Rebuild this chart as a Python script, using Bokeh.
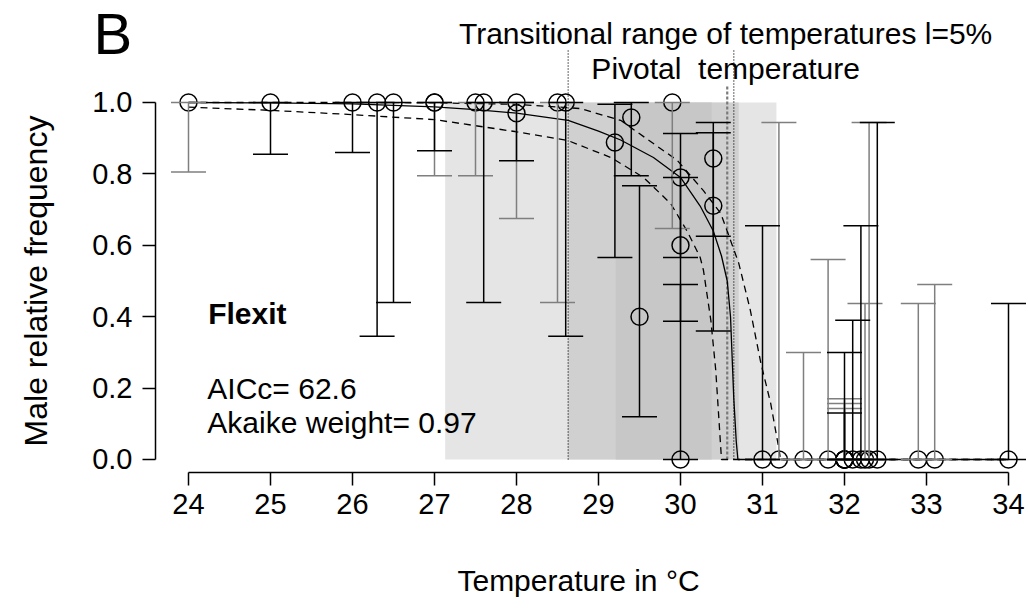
import math
from bokeh.plotting import figure
from bokeh.models import (Range1d, FixedTicker, PrintfTickFormatter, ColumnDataSource,
                          Whisker, TeeHead, Label)
from bokeh.embed import file_html
from bokeh.resources import INLINE

FONT = "Liberation Sans"

# ---------------- data ----------------
# observed male relative frequencies with binomial confidence intervals
temps = [24.0, 25.0, 26.0, 26.3, 26.5, 27.0, 27.0, 27.5, 27.6, 28.0, 28.0, 28.5, 28.6,
         29.2, 29.4, 29.5, 29.9, 30.0, 30.0, 30.0, 30.4, 30.4, 31.0, 31.2, 31.5, 31.8,
         32.0, 32.0, 32.0, 32.0, 32.0, 32.1, 32.2, 32.25, 32.3, 32.4, 32.9, 33.1, 34.0]
freq = [1.0, 1.0, 1.0, 1.0, 1.0, 1.0, 1.0, 1.0, 1.0, 1.0, 0.97, 1.0, 1.0,
        0.888, 0.958, 0.40, 1.0, 0.79, 0.60, 0.0, 0.843, 0.711, 0.0, 0.0, 0.0, 0.0,
        0.0, 0.0, 0.0, 0.0, 0.0, 0.0, 0.0, 0.0, 0.0, 0.0, 0.0, 0.0, 0.0]
ci_low = [0.805, 0.855, 0.86, 0.345, 0.44, 0.865, 0.795, 0.795, 0.44, 0.675, 0.837, 0.44, 0.345,
          0.566, 0.795, 0.12, 0.647, 0.566, 0.387, 0.0, 0.625, 0.36, 0.0, 0.0, 0.0, 0.0,
          0.0, 0.0, 0.0, 0.0, 0.0, 0.0, 0.0, 0.0, 0.0, 0.0, 0.0, 0.0, 0.0]
ci_high = [1.0, 1.0, 1.0, 1.0, 1.0, 1.0, 1.0, 1.0, 1.0, 1.0, 1.0, 1.0, 1.0,
           0.995, 1.0, 0.767, 1.0, 0.913, 0.79, 0.49, 0.944, 0.915, 0.655, 0.944, 0.30, 0.56,
           0.30, 0.17, 0.157, 0.143, 0.13, 0.39, 0.655, 0.437, 0.944, 0.944, 0.437, 0.49, 0.437]
bar_is_gray = [1, 0, 0, 0, 0, 0, 1, 1, 0, 1, 0, 1, 0,
               0, 0, 0, 1, 0, 0, 0, 0, 0, 0, 1, 1, 1,
               0, 1, 1, 1, 0, 0, 0, 1, 1, 0, 1, 1, 0]

# fitted Flexit model (solid) and its confidence limits (dashed)
fit_temp = [24.0, 25.0, 26.0, 27.0, 27.5, 28.0, 28.63, 29.0, 29.27, 29.67, 30.0, 30.24,
            30.4, 30.5, 30.57, 30.61, 30.65, 30.68, 30.70, 34.0]
fit_freq = [1.0, 0.999, 0.996, 0.988, 0.98, 0.97, 0.95, 0.92, 0.895, 0.846, 0.79, 0.71,
            0.64, 0.57, 0.50, 0.40, 0.17, 0.05, 0.0, 0.0]

low_temp = [24.0, 25.0, 26.0, 27.0, 28.0, 28.62, 29.15, 29.55, 29.88, 30.08, 30.24,
            30.28, 30.37, 30.43, 30.50, 34.0]
low_freq = [0.987, 0.978, 0.966, 0.952, 0.918, 0.894, 0.846, 0.79, 0.717, 0.64, 0.566,
            0.53, 0.39, 0.25, 0.0, 0.0]

up_temp = [24.0, 26.0, 27.0, 28.0, 28.78, 29.27, 29.67, 29.96, 30.28, 30.49, 30.71,
           30.85, 30.98, 31.1, 31.2, 31.22, 34.0]
up_freq = [1.0, 1.0, 0.999, 0.995, 0.983, 0.95, 0.885, 0.838, 0.753, 0.69, 0.55,
           0.42, 0.27, 0.157, 0.03, 0.0, 0.0]

# transitional range of temperatures (shaded confidence zones) and key temperatures
shade_left = [27.13, 28.63, 29.21]
shade_right = [31.17, 30.71, 30.38]
shade_color = ["#e5e5e5", "#d0d0d0", "#c7c7c7"]
trt_limits = [28.63, 30.65]
pivotal_temp = [30.57]

x_ticks = [24, 25, 26, 27, 28, 29, 30, 31, 32, 33, 34]
y_ticks = [0.0, 0.2, 0.4, 0.6, 0.8, 1.0]

# ---------------- figure (frame covers the whole canvas, axes at fixed places) ----------------
p = figure(width=1028, height=613,
           x_range=Range1d(21.7073, 34.2439), y_range=Range1d(-0.4314, 1.2857),
           output_backend="svg", toolbar_location=None, min_border=0)
p.outline_line_color = None
p.grid.visible = False
p.background_fill_color = "white"
p.border_fill_color = "white"

for ax, ticks, bnds in ((p.xaxis, x_ticks, (24, 34)), (p.yaxis, y_ticks, (0, 1))):
    ax.ticker = FixedTicker(ticks=ticks)
    ax.bounds = bnds
    ax.axis_line_width = 1.5
    ax.major_tick_line_width = 1.5
    ax.major_tick_in = 0
    ax.major_tick_out = 13
    ax.minor_tick_line_color = None
    ax.major_label_text_font = FONT
    ax.major_label_text_font_size = "29px"
    ax.major_label_text_color = "black"

p.xaxis.fixed_location = -0.036
p.yaxis.fixed_location = 23.5976
p.yaxis.formatter = PrintfTickFormatter(format="%.1f")
p.xaxis.major_label_standoff = 9
p.yaxis.major_label_standoff = 10

# shaded zones
p.quad(left=shade_left, right=shade_right, bottom=0, top=1,
       fill_color=shade_color, line_color=None)

# vertical reference lines
p.segment(x0=trt_limits, y0=0, x1=trt_limits, y1=1.146,
          line_color="black", line_width=1.2, line_dash="1 2")
p.segment(x0=pivotal_temp, y0=0, x1=pivotal_temp, y1=1.048,
          line_color="#7a7a7a", line_width=2.2, line_dash="3 2")

# model curves
p.line(fit_temp, fit_freq, line_color="black", line_width=1.3)
p.line(low_temp, low_freq, line_color="black", line_width=1.3, line_dash="7 5")
p.line(up_temp, up_freq, line_color="black", line_width=1.3, line_dash="7 5")

# error bars
for flag, col in ((1, "#7f7f7f"), (0, "black")):
    idx = [i for i, g in enumerate(bar_is_gray) if g == flag]
    src = ColumnDataSource(dict(t=[temps[i] for i in idx],
                                lo=[ci_low[i] for i in idx],
                                hi=[ci_high[i] for i in idx]))
    p.add_layout(Whisker(source=src, base="t", lower="lo", upper="hi", dimension="height",
                         level="glyph", line_color=col, line_width=1.5,
                         upper_head=TeeHead(size=35, line_color=col, line_width=1.5),
                         lower_head=TeeHead(size=35, line_color=col, line_width=1.5)))

# observed points
p.scatter(temps, freq, marker="circle", size=17, fill_color=None,
          line_color="black", line_width=1.5)

# texts
def add_label(x, y, text, size, align="left", style="normal", angle=0.0):
    p.add_layout(Label(x=x, y=y, text=text,
                       text_font=FONT, text_font_size=size, angle=angle,
                       text_align=align, text_baseline="middle", text_font_style=style,
                       text_color="black"))

add_label(30.55, 1.193, "Transitional range of temperatures l=5%", "30px", align="center")
add_label(30.55, 1.095, "Pivotal\u00a0 temperature", "30px", align="center")
add_label(24.24, 0.409, "Flexit", "30px", style="bold")
add_label(24.23, 0.20, "AICc= 62.6", "30px")
add_label(24.23, 0.104, "Akaike weight= 0.97", "30px")
add_label(22.84, 1.193, "B", "58px")
add_label(28.756, -0.339, "Temperature in °C", "30px", align="center")
add_label(22.146, 0.5, "Male relative frequency", "32px", align="center", angle=math.pi / 2)

open("out.html", "w").write(file_html(p, INLINE))
